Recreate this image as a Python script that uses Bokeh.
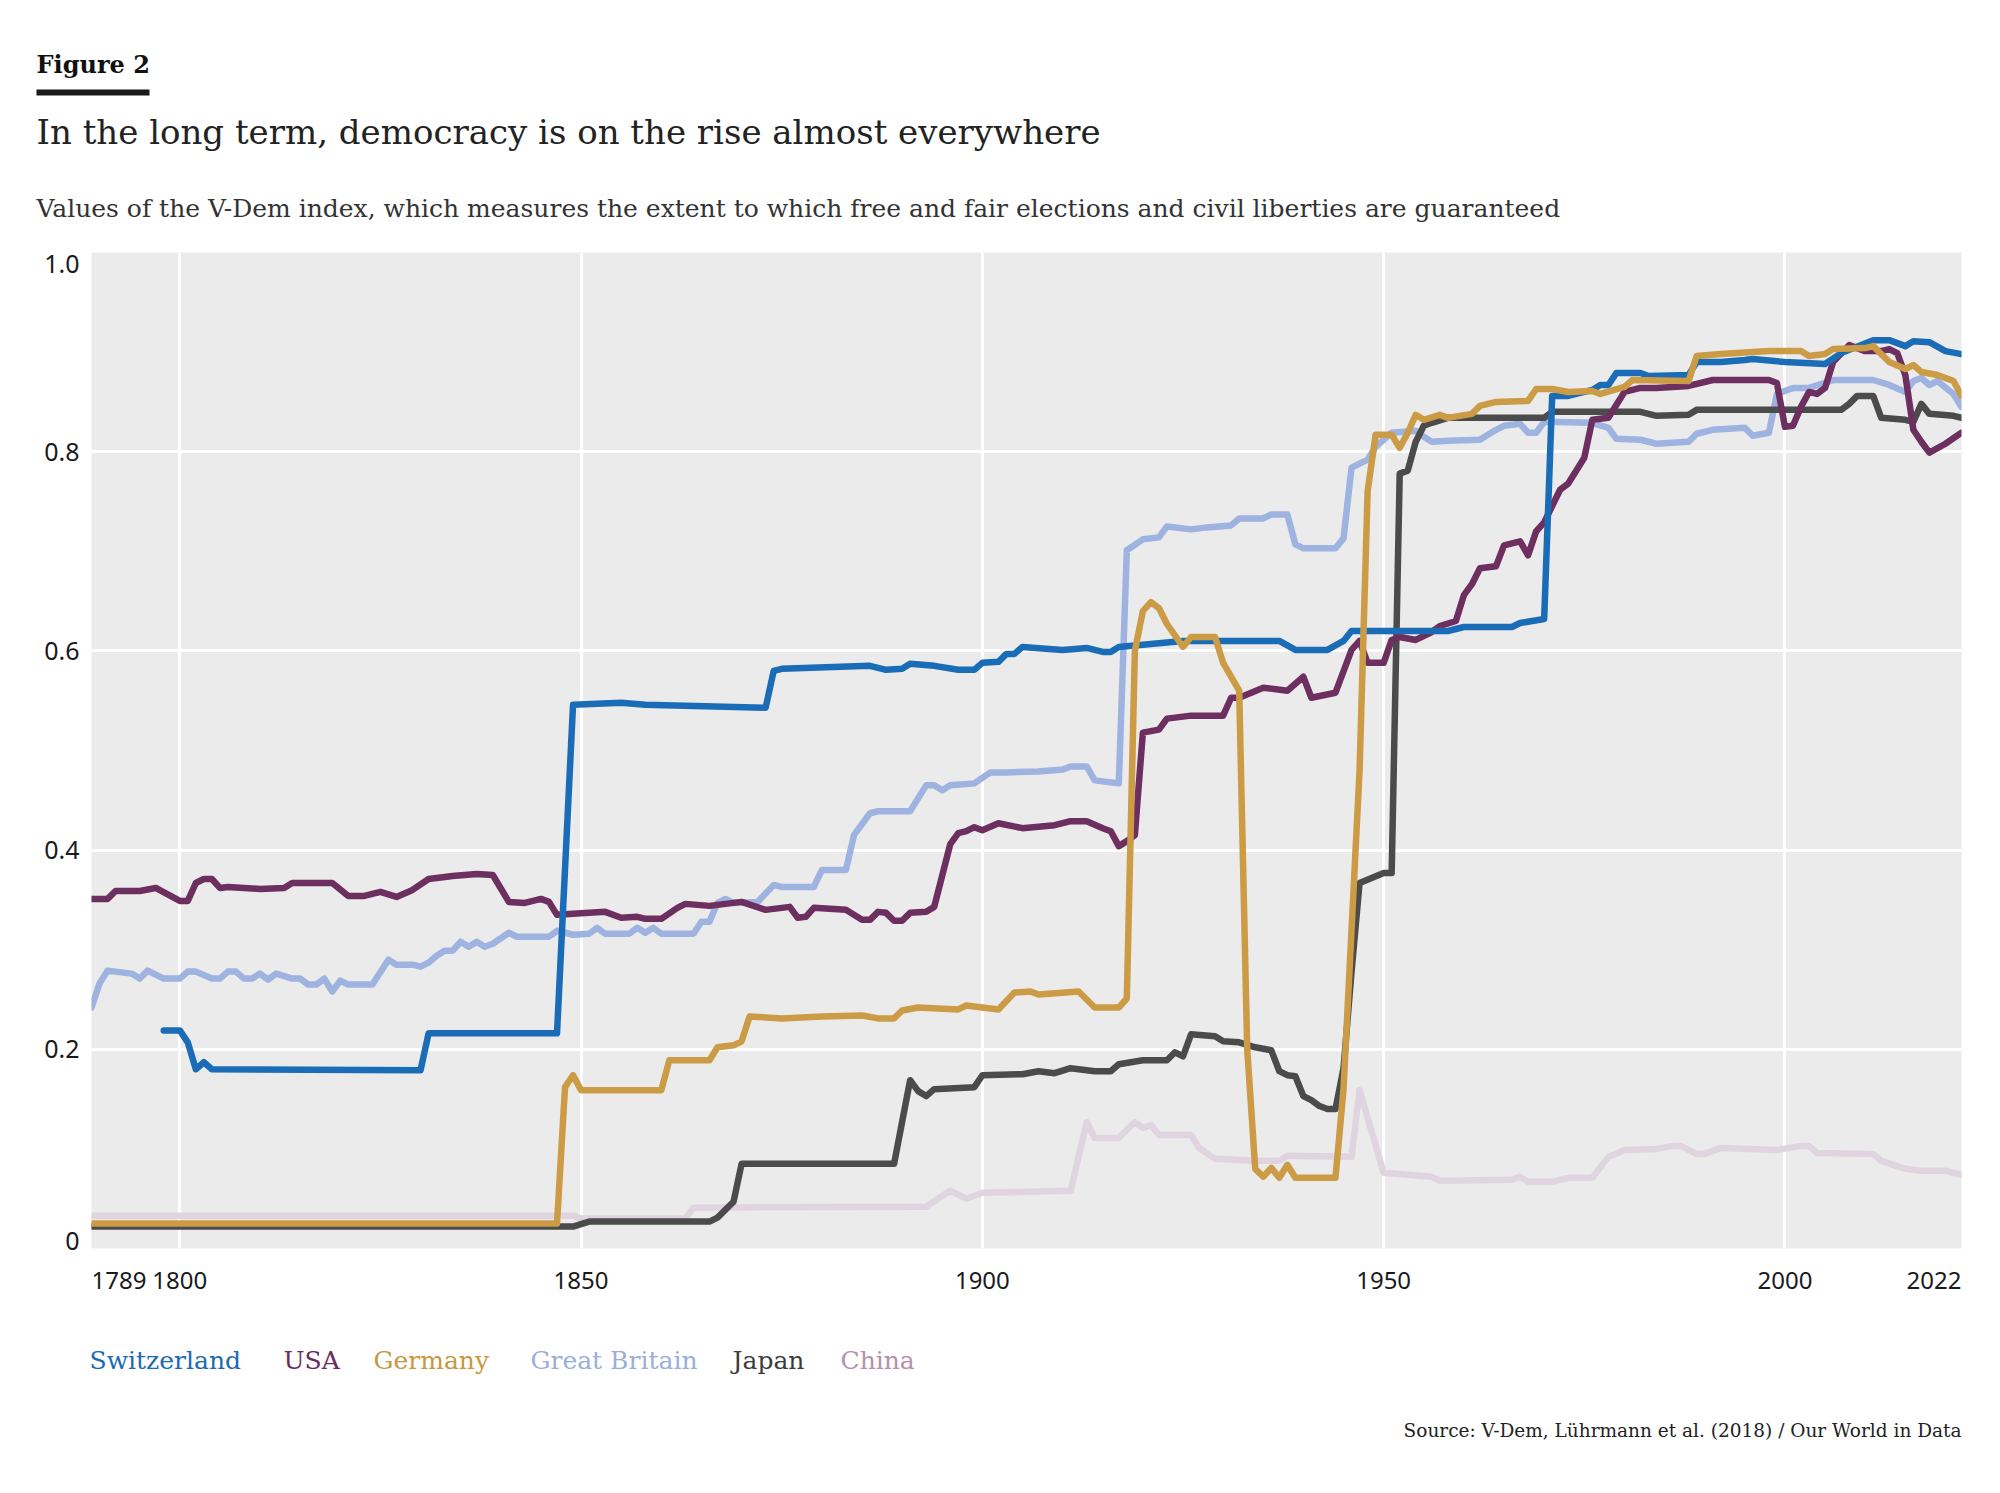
from bokeh.plotting import figure
from bokeh.layouts import column, row
from bokeh.models import ColumnDataSource, FixedTicker, Grid, Range1d
from bokeh.core.properties import value, field
from bokeh.embed import file_html
from bokeh.resources import INLINE

# --- data (year, V-Dem index) ---
switzerland_years = [1798, 1800, 1801, 1802, 1803, 1804, 1830, 1831, 1847, 1849, 1855, 1858, 1873, 1874,
                     1875, 1886, 1888, 1890, 1891, 1894, 1897, 1899, 1900, 1902, 1903, 1904, 1905, 1910,
                     1913, 1915, 1916, 1917, 1925, 1937, 1939, 1943, 1945, 1946, 1958, 1960, 1966, 1967,
                     1970, 1971, 1973, 1976, 1977, 1978, 1979, 1982, 1983, 1988, 1989, 1992, 1995, 1996,
                     2000, 2005, 2007, 2011, 2013, 2015, 2016, 2018, 2020, 2022]
switzerland_values = [0.219, 0.219, 0.207, 0.180, 0.187, 0.180, 0.179, 0.216, 0.216, 0.546, 0.548, 0.546,
                      0.543, 0.580, 0.582, 0.585, 0.581, 0.582, 0.587, 0.585, 0.581, 0.581, 0.588, 0.589,
                      0.597, 0.597, 0.604, 0.601, 0.603, 0.599, 0.599, 0.604, 0.610, 0.610, 0.601, 0.601,
                      0.610, 0.620, 0.620, 0.624, 0.624, 0.628, 0.632, 0.856, 0.856, 0.862, 0.867, 0.867,
                      0.879, 0.879, 0.876, 0.877, 0.890, 0.890, 0.892, 0.893, 0.890, 0.888, 0.899, 0.912,
                      0.912, 0.906, 0.911, 0.910, 0.901, 0.898]

usa_years = [1789, 1791, 1792, 1795, 1797, 1800, 1801, 1802, 1803, 1804, 1805, 1806, 1810, 1813, 1814,
             1819, 1821, 1823, 1825, 1827, 1829, 1831, 1834, 1837, 1839, 1841, 1843, 1845, 1846, 1847,
             1853, 1855, 1857, 1858, 1860, 1862, 1863, 1866, 1870, 1873, 1876, 1877, 1878, 1879, 1883,
             1885, 1886, 1887, 1888, 1889, 1890, 1891, 1893, 1894, 1896, 1897, 1898, 1899, 1900, 1902,
             1905, 1909, 1911, 1913, 1915, 1916, 1917, 1918, 1919, 1920, 1922, 1923, 1926, 1930, 1931,
             1932, 1935, 1938, 1940, 1941, 1944, 1946, 1947, 1948, 1950, 1951, 1952, 1954, 1956, 1957,
             1959, 1960, 1961, 1962, 1964, 1965, 1967, 1968, 1969, 1970, 1972, 1973, 1975, 1976, 1978,
             1980, 1982, 1984, 1988, 1991, 1998, 1999, 2000, 2001, 2002, 2003, 2004, 2005, 2006, 2008,
             2010, 2012, 2013, 2014, 2015, 2016, 2017, 2018, 2020, 2022]
usa_values = [0.351, 0.351, 0.359, 0.359, 0.362, 0.349, 0.349, 0.367, 0.371, 0.371, 0.362, 0.363, 0.361,
              0.362, 0.367, 0.367, 0.354, 0.354, 0.358, 0.353, 0.360, 0.371, 0.374, 0.376, 0.375, 0.348,
              0.347, 0.351, 0.348, 0.335, 0.338, 0.332, 0.333, 0.331, 0.331, 0.342, 0.346, 0.344, 0.348,
              0.340, 0.343, 0.332, 0.333, 0.342, 0.340, 0.330, 0.330, 0.338, 0.337, 0.329, 0.329, 0.337,
              0.338, 0.343, 0.406, 0.417, 0.419, 0.423, 0.420, 0.427, 0.422, 0.425, 0.429, 0.429, 0.422,
              0.419, 0.404, 0.409, 0.415, 0.518, 0.521, 0.532, 0.535, 0.535, 0.553, 0.553, 0.563, 0.560,
              0.574, 0.553, 0.558, 0.601, 0.610, 0.588, 0.588, 0.611, 0.614, 0.611, 0.619, 0.625, 0.630,
              0.656, 0.667, 0.683, 0.685, 0.706, 0.710, 0.696, 0.720, 0.729, 0.762, 0.768, 0.794, 0.832,
              0.834, 0.860, 0.864, 0.864, 0.866, 0.872, 0.872, 0.869, 0.825, 0.826, 0.845, 0.860, 0.858,
              0.864, 0.890, 0.907, 0.901, 0.901, 0.903, 0.899, 0.877, 0.822, 0.810, 0.799, 0.808, 0.819]

germany_years = [1789, 1847, 1848, 1849, 1850, 1860, 1861, 1866, 1867, 1869, 1870, 1871, 1875, 1880,
                 1885, 1887, 1889, 1890, 1892, 1897, 1898, 1902, 1904, 1906, 1907, 1912, 1914, 1917,
                 1918, 1919, 1920, 1921, 1922, 1923, 1925, 1926, 1929, 1930, 1932, 1933, 1934, 1935,
                 1936, 1937, 1938, 1939, 1944, 1945, 1947, 1948, 1949, 1951, 1952, 1953, 1954, 1955,
                 1957, 1958, 1961, 1962, 1964, 1968, 1969, 1971, 1973, 1976, 1977, 1980, 1981, 1988,
                 1989, 1992, 1998, 2002, 2003, 2005, 2006, 2010, 2011, 2013, 2015, 2016, 2017, 2019,
                 2021, 2022]
germany_values = [0.025, 0.025, 0.162, 0.174, 0.159, 0.159, 0.189, 0.189, 0.202, 0.204, 0.208, 0.233,
                  0.231, 0.233, 0.234, 0.231, 0.231, 0.239, 0.242, 0.240, 0.244, 0.240, 0.257, 0.258,
                  0.255, 0.258, 0.242, 0.242, 0.251, 0.600, 0.640, 0.649, 0.643, 0.627, 0.604, 0.614,
                  0.614, 0.588, 0.560, 0.200, 0.080, 0.072, 0.081, 0.071, 0.084, 0.071, 0.071, 0.160,
                  0.480, 0.760, 0.817, 0.817, 0.804, 0.819, 0.837, 0.832, 0.837, 0.834, 0.838, 0.846,
                  0.850, 0.851, 0.863, 0.863, 0.860, 0.861, 0.858, 0.865, 0.872, 0.871, 0.896, 0.898,
                  0.901, 0.901, 0.896, 0.898, 0.903, 0.904, 0.906, 0.890, 0.883, 0.887, 0.880, 0.877,
                  0.871, 0.856]

britain_years = [1789, 1790, 1791, 1794, 1795, 1796, 1798, 1800, 1801, 1802, 1804, 1805, 1806, 1807,
                 1808, 1809, 1810, 1811, 1812, 1814, 1815, 1816, 1817, 1818, 1819, 1820, 1821, 1824,
                 1826, 1827, 1829, 1830, 1831, 1832, 1833, 1834, 1835, 1836, 1837, 1838, 1839, 1841,
                 1842, 1846, 1847, 1849, 1851, 1852, 1853, 1856, 1857, 1858, 1859, 1860, 1864, 1865,
                 1866, 1867, 1868, 1869, 1872, 1874, 1875, 1879, 1880, 1883, 1884, 1886, 1887, 1891,
                 1893, 1894, 1895, 1896, 1899, 1901, 1903, 1907, 1910, 1911, 1913, 1914, 1917, 1918,
                 1920, 1922, 1923, 1926, 1928, 1931, 1932, 1935, 1936, 1938, 1939, 1940, 1944, 1945,
                 1946, 1948, 1949, 1950, 1951, 1954, 1955, 1956, 1958, 1962, 1964, 1965, 1967, 1968,
                 1969, 1970, 1976, 1978, 1979, 1982, 1984, 1988, 1989, 1991, 1995, 1996, 1998, 1999,
                 2001, 2003, 2005, 2006, 2011, 2013, 2015, 2016, 2017, 2018, 2019, 2021, 2022]
britain_values = [0.242, 0.266, 0.279, 0.276, 0.271, 0.279, 0.271, 0.271, 0.278, 0.278, 0.271, 0.271,
                  0.278, 0.278, 0.271, 0.271, 0.276, 0.270, 0.276, 0.271, 0.271, 0.265, 0.265, 0.271,
                  0.258, 0.269, 0.265, 0.265, 0.290, 0.285, 0.285, 0.283, 0.287, 0.294, 0.299, 0.299,
                  0.308, 0.303, 0.308, 0.303, 0.306, 0.317, 0.313, 0.313, 0.319, 0.315, 0.316, 0.322,
                  0.316, 0.316, 0.322, 0.317, 0.322, 0.316, 0.316, 0.328, 0.328, 0.347, 0.351, 0.347,
                  0.348, 0.365, 0.363, 0.363, 0.380, 0.380, 0.415, 0.437, 0.439, 0.439, 0.465, 0.465,
                  0.460, 0.465, 0.467, 0.478, 0.478, 0.479, 0.481, 0.484, 0.484, 0.470, 0.467, 0.701,
                  0.712, 0.714, 0.725, 0.722, 0.724, 0.726, 0.733, 0.733, 0.737, 0.737, 0.707, 0.703,
                  0.703, 0.713, 0.784, 0.792, 0.805, 0.812, 0.819, 0.821, 0.815, 0.810, 0.811, 0.812,
                  0.822, 0.826, 0.828, 0.819, 0.819, 0.830, 0.829, 0.824, 0.813, 0.812, 0.808, 0.810,
                  0.818, 0.822, 0.824, 0.816, 0.819, 0.858, 0.864, 0.864, 0.869, 0.872, 0.872, 0.867,
                  0.860, 0.871, 0.874, 0.867, 0.871, 0.858, 0.845]

japan_years = [1789, 1849, 1851, 1866, 1867, 1869, 1870, 1889, 1891, 1892, 1893, 1894, 1899, 1900,
               1905, 1907, 1909, 1911, 1914, 1916, 1917, 1920, 1923, 1924, 1925, 1926, 1929, 1930,
               1932, 1934, 1936, 1937, 1938, 1939, 1940, 1941, 1942, 1943, 1944, 1945, 1946, 1947,
               1950, 1951, 1952, 1953, 1954, 1955, 1956, 1958, 1970, 1971, 1982, 1984, 1988, 1989,
               2007, 2008, 2009, 2011, 2012, 2015, 2016, 2017, 2018, 2021, 2022]
japan_values = [0.022, 0.022, 0.027, 0.027, 0.031, 0.047, 0.085, 0.085, 0.169, 0.158, 0.153, 0.160,
                0.162, 0.174, 0.175, 0.178, 0.176, 0.181, 0.178, 0.178, 0.185, 0.189, 0.189, 0.197,
                0.193, 0.215, 0.213, 0.208, 0.207, 0.202, 0.199, 0.178, 0.174, 0.173, 0.153, 0.149,
                0.143, 0.140, 0.140, 0.181, 0.278, 0.367, 0.377, 0.377, 0.778, 0.781, 0.810, 0.826,
                0.829, 0.834, 0.834, 0.840, 0.840, 0.836, 0.837, 0.842, 0.842, 0.848, 0.856, 0.856,
                0.834, 0.832, 0.830, 0.848, 0.838, 0.836, 0.834]

china_years = [1789, 1849, 1850, 1863, 1864, 1893, 1896, 1898, 1900, 1911, 1913, 1914, 1917, 1919,
               1920, 1921, 1922, 1926, 1927, 1929, 1934, 1937, 1938, 1946, 1947, 1950, 1956, 1957,
               1966, 1967, 1968, 1971, 1973, 1976, 1978, 1980, 1984, 1986, 1987, 1989, 1990, 1992,
               1999, 2002, 2003, 2004, 2011, 2012, 2015, 2017, 2020, 2022]
china_values = [0.033, 0.033, 0.030, 0.030, 0.041, 0.042, 0.058, 0.050, 0.056, 0.058, 0.127, 0.111,
                0.111, 0.127, 0.121, 0.124, 0.114, 0.114, 0.101, 0.090, 0.088, 0.088, 0.093, 0.092,
                0.159, 0.076, 0.072, 0.068, 0.069, 0.072, 0.067, 0.067, 0.071, 0.071, 0.092, 0.099,
                0.100, 0.103, 0.103, 0.095, 0.095, 0.101, 0.099, 0.103, 0.103, 0.096, 0.095, 0.088,
                0.080, 0.078, 0.078, 0.074]

countries = ["Switzerland", "USA", "Germany", "Great Britain", "Japan", "China"]
line_colors = ["#1a6cb6", "#6c2f5f", "#cc9b46", "#9fb3e0", "#4b4b4b", "#e0d4e1"]
legend_colors = ["#1a6ab4", "#6a2d5c", "#c8983f", "#9aaedc", "#3c3c3c", "#b68fac"]

x_ticks = [1789, 1800, 1850, 1900, 1950, 2000, 2022]
x_tick_align = ["left", "center", "center", "center", "center", "center", "right"]
x_grid_years = [1800, 1850, 1900, 1950, 2000]
y_ticks = [0, 0.2, 0.4, 0.6, 0.8, 1.0]
y_tick_labels = ["0", "0.2", "0.4", "0.6", "0.8", "1.0"]

# --- layout constants (pixels) ---
SERIF = "DejaVu Serif"
SANS = "Noto Sans"
W = 1984
LEFT, RIGHT = 91, 23          # frame spans x 91..1961
FRAME_W, FRAME_H = 1870, 996  # frame spans y 252..1248
TOP_PAD, BOTTOM_PAD = 20, 10
HEADER_H, TICKS_H, FOOTER_H = 232, 50, 162

series = {
    "Switzerland": (switzerland_years, switzerland_values),
    "USA": (usa_years, usa_values),
    "Germany": (germany_years, germany_values),
    "Great Britain": (britain_years, britain_values),
    "Japan": (japan_years, japan_values),
    "China": (china_years, china_values),
}


def blank_figure(width, height, x_range, y_range, **kw):
    f = figure(
        width=width, height=height,
        x_range=x_range, y_range=y_range,
        x_axis_type=None, y_axis_type=None,
        output_backend="svg", toolbar_location=None,
        min_border=0, frame_align=False, **kw,
    )
    f.outline_line_color = None
    return f


def pixel_figure(height):
    # data units are pixels, y growing downwards
    return blank_figure(W, height, Range1d(0, W), Range1d(height, 0))


# --- header ---
header = pixel_figure(HEADER_H)
header.text(x=[36], y=[64], text=["Figure 2"], text_font=value(SERIF), text_font_style="bold",
            text_font_size="24px", text_baseline="middle", text_color="#111111")
header.quad(left=[36], right=[149], top=[89], bottom=[95], fill_color="#1a1a1a", line_color=None)
header.text(x=[36], y=[131], text=["In the long term, democracy is on the rise almost everywhere"],
            text_font=value(SERIF), text_font_size="34px", text_baseline="middle", text_color="#222222")
header.text(x=[36], y=[208],
            text=["Values of the V-Dem index, which measures the extent to which free and "
                  "fair elections and civil liberties are guaranteed"],
            text_font=value(SERIF), text_font_size="25px", text_baseline="middle", text_color="#333333")

# --- main chart ---
x_range = Range1d(1789, 2022)
y_range = Range1d(0, 1)
p = figure(
    frame_width=FRAME_W,
    frame_height=FRAME_H,
    x_range=x_range,
    y_range=y_range,
    x_axis_type=None,
    y_axis_type=None,
    output_backend="svg",
    toolbar_location=None,
    min_border_left=0,
    min_border_right=RIGHT,
    min_border_top=TOP_PAD,
    min_border_bottom=BOTTOM_PAD,
    frame_align=False,
)
p.background_fill_color = "#ebebeb"
p.border_fill_color = "white"
p.outline_line_color = None
p.add_layout(Grid(dimension=0, ticker=FixedTicker(ticks=x_grid_years),
                  grid_line_color="white", grid_line_width=3))
p.add_layout(Grid(dimension=1, ticker=FixedTicker(ticks=[t for t in y_ticks if 0 < t < 1]),
                  grid_line_color="white", grid_line_width=3))

# drawing order: lighter / background series first
draw_order = ["China", "Great Britain", "Japan", "USA", "Switzerland", "Germany"]
for name in draw_order:
    yrs, vals = series[name]
    color = line_colors[countries.index(name)]
    p.line(yrs, vals, line_width=6.5, line_color=color, line_join="round", line_cap="round")

# --- y tick labels: a strip left of the chart using the same value scale ---
strip_h = TOP_PAD + FRAME_H + BOTTOM_PAD
y_strip = blank_figure(
    LEFT, strip_h, Range1d(0, LEFT),
    Range1d(-BOTTOM_PAD / FRAME_H, 1 + TOP_PAD / FRAME_H),
)
ylab_src = ColumnDataSource(dict(
    x=[79] * len(y_ticks), y=y_ticks, text=y_tick_labels,
    dy=[-8, 0, 0, 0, 0, 11],   # end labels sit just inside the panel
))
y_strip.text(x="x", y="y", text="text", y_offset="dy", source=ylab_src, text_align="right",
             text_baseline="middle", text_font=value(SANS), text_font_size="25px",
             text_color="#1a1a1a")

# --- x tick labels, sharing the chart's x scale ---
ticks_fig = figure(
    frame_width=FRAME_W, frame_height=TICKS_H,
    x_range=x_range, y_range=Range1d(TICKS_H, 0),
    x_axis_type=None, y_axis_type=None,
    output_backend="svg", toolbar_location=None,
    min_border_left=LEFT, min_border_right=RIGHT, min_border_top=0, min_border_bottom=0,
    frame_align=False,
)
ticks_fig.outline_line_color = None
tick_src = ColumnDataSource(dict(x=x_ticks, y=[22] * len(x_ticks),
                                 text=[str(t) for t in x_ticks], align=x_tick_align))
ticks_fig.text(x="x", y="y", text="text", source=tick_src, text_align=field("align"),
               text_baseline="middle", text_font=value(SANS), text_font_size="24px",
               text_color="#1a1a1a")

# --- footer: legend words and source ---
footer = pixel_figure(FOOTER_H)
legend_x = [89, 283, 373, 530, 732, 840]
leg_src = ColumnDataSource(dict(x=legend_x, y=[52] * len(countries), text=countries, color=legend_colors))
footer.text(x="x", y="y", text="text", text_color="color", source=leg_src,
            text_font=value(SERIF), text_font_size="25px", text_baseline="middle")
footer.text(x=[1961], y=[122], text=["Source: V-Dem, Lührmann et al. (2018) / Our World in Data"],
            text_font=value(SERIF), text_font_size="18.5px", text_align="right",
            text_baseline="middle", text_color="#222222")

layout = column(header, row(y_strip, p, spacing=0), ticks_fig, footer, spacing=0)
open("out.html", "w").write(file_html(layout, INLINE))
